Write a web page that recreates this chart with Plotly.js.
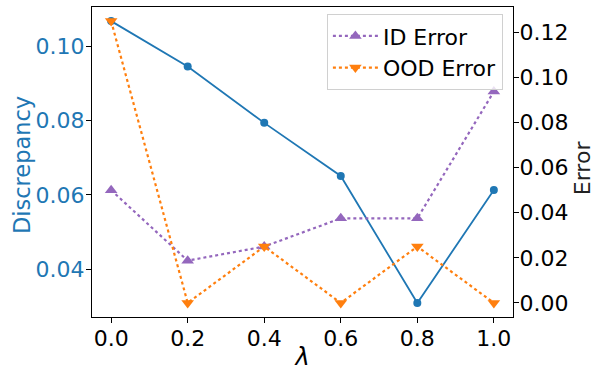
<!DOCTYPE html>
<html>
<head>
<meta charset="utf-8">
<script src="https://cdn.plot.ly/plotly-3.0.1.min.js"></script>
<style>html,body{margin:0;padding:0;background:#fff;}#chart{width:596px;height:371px;}</style>
</head>
<body>
<div id="chart"></div>
<script>
const lambdas = [0.0, 0.2, 0.4, 0.6, 0.8, 1.0];
const discrepancy = [0.1068, 0.0946, 0.0794, 0.0651, 0.0309, 0.0613];
const idError = [0.05, 0.01875, 0.025, 0.0375, 0.0375, 0.09375];
const oodError = [0.125, 0.0, 0.025, 0.0, 0.025, 0.0];
const xTicks = [0.0, 0.2, 0.4, 0.6, 0.8, 1.0];
const xTickText = ["0.0", "0.2", "0.4", "0.6", "0.8", "1.0"];
const leftTicks = [0.04, 0.06, 0.08, 0.10];
const leftTickText = ["0.04", "0.06", "0.08", "0.10"];
const rightTicks = [0.0, 0.02, 0.04, 0.06, 0.08, 0.10, 0.12];
const rightTickText = ["0.00", "0.02", "0.04", "0.06", "0.08", "0.10", "0.12"];

const BLUE = '#1f77b4', PURPLE = '#9467bd', ORANGE = '#ff7f0e';
const FONT = 'DejaVu Sans, sans-serif';
const FS = 22;

const traces = [
  {x: lambdas, y: discrepancy, name: 'Discrepancy', mode: 'lines+markers', showlegend: false,
   line: {color: BLUE, width: 1.8}, marker: {color: BLUE, size: 8, symbol: 'circle'}, yaxis: 'y'},
  {x: lambdas, y: idError, name: 'ID Error', mode: 'lines+markers', yaxis: 'y2',
   line: {color: PURPLE, width: 2.2, dash: 'dot'}, marker: {color: PURPLE, size: 11, symbol: 'triangle-up'}},
  {x: lambdas, y: oodError, name: 'OOD Error', mode: 'lines+markers', yaxis: 'y2',
   line: {color: ORANGE, width: 2.2, dash: 'dot'}, marker: {color: ORANGE, size: 11, symbol: 'triangle-down'}}
];

const axisCommon = {showgrid: false, zeroline: false, showline: true, linecolor: '#000', linewidth: 1,
  ticks: 'outside', ticklen: 5, tickwidth: 1, tickcolor: '#000', automargin: false};

const layout = {
  width: 596, height: 371,
  margin: {l: 92, r: 83, t: 7, b: 54},
  paper_bgcolor: '#fff', plot_bgcolor: '#fff',
  font: {family: FONT, size: FS, color: '#000'},
  showlegend: true,
  legend: {x: 0.976, y: 0.977, xanchor: 'right', yanchor: 'top', bgcolor: 'rgba(255,255,255,0.8)',
    bordercolor: '#d0d0d0', borderwidth: 1, font: {family: FONT, size: FS, color: '#000'},
    itemwidth: 45, tracegroupgap: 0},
  xaxis: Object.assign({}, axisCommon, {range: [-0.05, 1.05], tickvals: xTicks, ticktext: xTickText,
    mirror: true, tickfont: {family: FONT, size: FS, color: '#000'}, ticklabelstandoff: -3,
    title: {text: '<i>λ</i>', font: {family: FONT, size: 24, color: '#000'}, standoff: 2}}),
  yaxis: Object.assign({}, axisCommon, {range: [0.02713, 0.1106], tickvals: leftTicks, ticktext: leftTickText,
    tickfont: {color: BLUE, size: FS, family: FONT}, ticklabelstandoff: -3}),
  yaxis2: Object.assign({}, axisCommon, {range: [-0.00625, 0.13125], tickvals: rightTicks, ticktext: rightTickText,
    overlaying: 'y', side: 'right', tickfont: {color: '#000', size: FS, family: FONT}, ticklabelstandoff: -4}),
  annotations: [
    {text: 'Discrepancy', xref: 'paper', yref: 'paper', x: 0, y: 0.49, xanchor: 'center', yanchor: 'middle',
     xshift: -70, textangle: -90, showarrow: false, font: {family: FONT, size: 22.5, color: BLUE}},
    {text: 'Error', xref: 'paper', yref: 'paper', x: 1, y: 0.48, xanchor: 'center', yanchor: 'middle',
     xshift: 69, textangle: -90, showarrow: false, font: {family: FONT, size: 22, color: '#222'}}
  ]
};

Plotly.newPlot('chart', traces, layout, {staticPlot: true, displayModeBar: false});
</script>
</body>
</html>
